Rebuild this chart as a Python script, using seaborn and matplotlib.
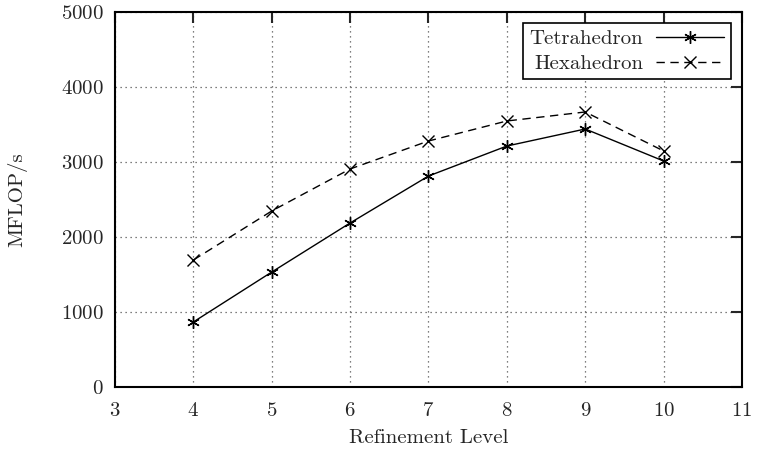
import numpy as np
import pandas as pd
import matplotlib.pyplot as plt
import seaborn as sns

levels = [4, 5, 6, 7, 8, 9, 10]
tetra = [867, 1533, 2187, 2813, 3213, 3440, 3013]
hexa = [1693, 2347, 2907, 3280, 3547, 3667, 3147]

sns.set_style('white')
plt.rcParams['font.family'] = ['cmr10', 'DejaVu Serif']
plt.rcParams['axes.formatter.use_mathtext'] = True

fig = plt.figure(figsize=(7.58, 4.5), dpi=100)
ax = fig.add_axes([115 / 758, 1 - 387 / 450, 627 / 758, 375 / 450])

sns.lineplot(x=levels, y=tetra, color='black', linestyle='-', linewidth=1.0,
             marker=(6, 2, 0), markersize=9, markeredgewidth=1.0,
             markeredgecolor='black', label='Tetrahedron', ax=ax)
sns.lineplot(x=levels, y=hexa, color='black', linestyle=(0, (6, 4)), linewidth=1.0,
             marker='x', markersize=8, markeredgewidth=1.0,
             markeredgecolor='black', label='Hexahedron', ax=ax)

ax.set_xlim(3, 11)
ax.set_ylim(0, 5000)
ax.set_xticks(range(3, 12))
ax.set_yticks(range(0, 5001, 1000))
ax.grid(True, color='#555555', linestyle=(0, (1, 3)), linewidth=0.9)
ax.tick_params(direction='in', length=8, width=1.5, top=True, right=True,
               labelsize=15)
ax.tick_params(axis='x', pad=11)
ax.tick_params(axis='y', pad=8)
for s in ax.spines.values():
    s.set_linewidth(1.5)
    s.set_color('black')
ax.set_xlabel('Refinement Level', fontsize=15, labelpad=6)
ax.set_ylabel('MFLOP/s', fontsize=15, labelpad=24)

leg = ax.legend(loc='upper right', markerfirst=False, fontsize=15,
                fancybox=False, framealpha=1, edgecolor='black',
                handlelength=3.3, borderaxespad=0.55, labelspacing=0.3,
                borderpad=0.3, handletextpad=0.6)
leg.get_frame().set_linewidth(1.2)

fig.savefig('out.png', dpi=100)
